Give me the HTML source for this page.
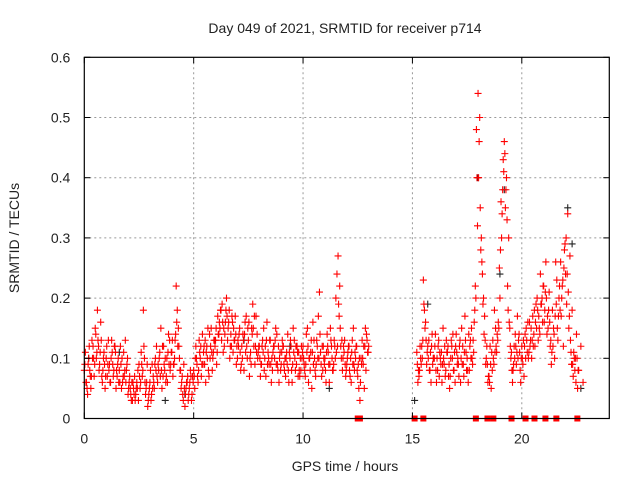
<!DOCTYPE html>
<html><head><meta charset="utf-8"><style>
body{margin:0;background:#fff}
svg{display:block;font-family:"Liberation Sans",sans-serif}
</style></head><body>
<svg id="chart" width="640" height="480">
<rect width="640" height="480" fill="#fff"/>
<text x="345" y="33" text-anchor="middle" font-size="14" fill="#222">Day 049 of 2021, SRMTID for receiver p714</text>
<text x="345" y="471" text-anchor="middle" font-size="14" fill="#222">GPS time / hours</text>
<text transform="translate(19,238) rotate(-90)" text-anchor="middle" font-size="14" fill="#222">SRMTID / TECUs</text>
<g id="grid"></g><g id="marks"></g><g id="axes"></g>
</svg>
<script>
const xTicks=[0,5,10,15,20];
const yTicks=[0,0.1,0.2,0.3,0.4,0.5,0.6];
const yTickLabels=["0","0.1","0.2","0.3","0.4","0.5","0.6"];
const seg1Start=0, seg1Step=0.1;
const seg1A=[.08,.06,.10,.05,.12,.15,.18,.09,.07,.11,.10,.13,.06,.09,.12,.07,.08,.05,.11,.06,.04,.05,.03,.07,.06,.09,.11,.18,.04,.02,.06,.09,.05,.12,.08,.15,.07,.10,.06,.13,.11,.09,.22,.15,.08,.04,.02,.06,.05,.03,.08,.12,.06,.10,.14,.09,.12,.07,.15,.11,.13,.17,.15,.19,.12,.20,.16,.14,.11,.17,.10,.15,.12,.08,.17,.13,.11,.19,.09,.14,.12,.09,.15,.07,.11,.13,.08,.10,.14,.06,.09,.12,.07,.14,.10,.06,.13,.09,.11,.08,.12,.07,.15,.10,.05,.13,.09,.17,.11,.08,.10,.14,.06,.12,.09,.20,.27,.15,.08,.13,.09,.12,.06,.15,.10,.07,.03,.13,.05,.14,.12];
const seg1B=[.11,.04,.08,.13,.07,.10,.12,.16,.08,.05,.07,.09,.13,.08,.05,.10,.12,.06,.08,.09,.06,.03,.05,.04,.08,.05,.07,.10,.06,.04,.03,.07,.10,.06,.11,.05,.09,.07,.14,.09,.07,.13,.18,.10,.06,.09,.05,.03,.08,.07,.05,.09,.13,.07,.11,.06,.15,.10,.08,.13,.09,.14,.18,.11,.16,.13,.10,.17,.13,.09,.12,.08,.14,.16,.10,.07,.15,.12,.17,.11,.07,.13,.10,.16,.09,.06,.12,.15,.08,.11,.13,.08,.11,.06,.12,.15,.08,.11,.07,.10,.09,.14,.06,.11,.16,.08,.12,.21,.07,.10,.06,.11,.15,.08,.12,.24,.17,.10,.12,.07,.11,.07,.13,.08,.12,.05,.10,.09,.15,.11];
const seg1C=[.09,.05,.12,.07,.10,.14,.13,.11,.06,.09,.12,.08,.10,.07,.11,.09,.06,.10,.07,.08,.05,.04,.06,.03,.05,.07,.09,.12,.05,.03,.08,.05,.09,.07,.10,.08,.12,.06,.11,.08,.13,.10,.16,.12,.05,.03,.04,.07,.06,.04,.07,.10,.08,.12,.09,.13,.10,.14,.11,.13,.15,.14,.18,.16,.14,.17,.18,.12,.15,.14,.13,.11,.10,.14,.12,.16,.09,.15,.12,.10,.10,.12,.08,.13,.10,.09,.11,.13,.09,.10,.11,.09,.10,.08,.13,.09,.10,.12,.08,.12,.10,.09,.12,.08,.11,.10,.13,.10,.09,.12,.08,.12,.09,.10,.13,.11,.19,.12,.10,.09,.10,.08,.11,.09,.12,.09,.06,.10,.12,.13];
const seg1D=[.06,.09,.07,.10,.09,.11,.08,.13,.10,.07,.09,.06,.11,.12,.08,.06,.09,.07,.13,.10,.07,.06,.04,.05,.03,.06,.08,.06,.09,.05,.04,.06,.08,.09,.07,.12,.08,.10,.09,.11,.09,.14,.12,.08,.07,.05,.06,.04,.07,.06,.10,.07,.11,.09,.12,.11,.08,.12,.10,.12,.11,.16,.13,.15,.18,.15,.12,.16,.13,.12,.14,.09,.13,.11,.15,.10,.14,.17,.11,.12,.09,.11,.12,.09,.13,.10,.12,.09,.12,.08,.12,.10,.09,.11,.08,.11,.12,.07,.10,.11,.08,.11,.10,.13,.09,.07,.10,.14,.12,.09,.11,.09,.13,.08,.10,.12,.22,.13,.11,.08,.12,.10,.09,.11,.08,.10,.09,.12,.08,.11];
const seg2Start=15.2, seg2Step=0.1;
const seg2A=[.11,.07,.09,.23,.16,.12,.08,.14,.10,.06,.13,.09,.15,.07,.11,.05,.12,.08,.14,.09,.06,.12,.17,.10,.08,.15,.11,.20,.54,.35,.24,.17,.12,.07,.05,.10,.15,.13,.20,.34,.46,.40,.30,.10,.08,.14,.17,.11,.12,.07,.15,.10,.13,.17,.12,.20,.15,.19,.22,.26,.15,.12,.18,.10,.23,.20,.17,.12,.24,.34,.27,.18,.10,.14,.08,.12,.06];
const seg2B=[.06,.12,.10,.18,.09,.13,.06,.10,.14,.08,.11,.06,.09,.13,.07,.10,.14,.06,.09,.12,.15,.07,.11,.06,.13,.09,.18,.40,.46,.30,.20,.09,.06,.12,.08,.18,.11,.15,.36,.43,.35,.22,.15,.08,.12,.09,.13,.06,.09,.14,.11,.16,.10,.14,.19,.13,.24,.16,.18,.14,.21,.09,.15,.26,.13,.18,.22,.28,.19,.15,.11,.07,.10,.05];
const seg2C=[.09,.08,.12,.19,.13,.10,.11,.09,.12,.10,.07,.11,.10,.08,.12,.07,.10,.11,.11,.07,.10,.09,.13,.08,.12,.10,.16,.48,.40,.28,.19,.13,.09,.06,.11,.09,.12,.16,.28,.38,.44,.33,.16,.11,.09,.12,.10,.08,.10,.12,.13,.11,.15,.12,.16,.18,.14,.20,.16,.20,.18,.13,.12,.17,.15,.22,.20,.25,.30,.21,.13,.09,.08,.10];
const seg2D=[.08,.10,.13,.15,.11,.08,.12,.10,.08,.12,.10,.09,.12,.11,.09,.13,.08,.12,.10,.13,.09,.11,.08,.14,.10,.13,.22,.32,.50,.26,.14,.10,.07,.09,.13,.11,.14,.25,.30,.41,.38,.18,.12,.06,.10,.11,.14,.10,.13,.10,.16,.12,.13,.18,.15,.17,.19,.22,.21,.17,.16,.11,.14,.19,.17,.26,.23,.29,.24,.17,.09,.11,.06,.08];
const blackHours=[0.2,1.6,3.7,4.6,7.3,9.4,11.2,15.1,15.7,18.0,19.0,19.2,22.1,22.3,22.7];
const blackVals=[.10,.11,.03,.04,.13,.12,.05,.03,.19,.40,.24,.38,.35,.29,.05];
const zeroHours=[12.5,12.6,15.1,15.5,17.9,18.43,18.7,19.53,20.17,20.58,21.08,21.58,22.54];

const L=84.3,R=609.3,T=57.3,B=418.5;
const X=h=>L+h/24*(R-L);
const Y=v=>B-v/0.6*(B-T);
const NS="http://www.w3.org/2000/svg";
function mk(tag,attrs,parent){const e=document.createElementNS(NS,tag);for(const k in attrs)e.setAttribute(k,attrs[k]);parent.appendChild(e);return e;}
const grid=document.getElementById('grid'),marks=document.getElementById('marks'),axes=document.getElementById('axes');
yTicks.forEach((v,i)=>{
 if(v>0&&v<0.6){const g=mk('line',{x1:L,x2:R,y1:Y(v),y2:Y(v),stroke:'#999','stroke-dasharray':'2,3'},grid);
 
 }
 mk('line',{x1:L,x2:L+6,y1:Y(v),y2:Y(v),stroke:'#000'},axes);
 mk('line',{x1:R,x2:R-6,y1:Y(v),y2:Y(v),stroke:'#000'},axes);
 const t=mk('text',{x:L-14,y:Y(v)+5,'text-anchor':'end','font-size':'14',fill:'#222'},axes);t.textContent=yTickLabels[i];
 
 
});
xTicks.forEach(h=>{
 if(h>0){const g=mk('line',{x1:X(h),x2:X(h),y1:T,y2:B,stroke:'#999','stroke-dasharray':'2,3'},grid);
 
 }
 mk('line',{x1:X(h),x2:X(h),y1:B,y2:B-6,stroke:'#000'},axes);
 mk('line',{x1:X(h),x2:X(h),y1:T,y2:T+6,stroke:'#000'},axes);
 const t=mk('text',{x:X(h),y:B+25,'text-anchor':'middle','font-size':'14',fill:'#222'},axes);t.textContent=h;
 
 
});
const frame=mk('rect',{x:L,y:T,width:R-L,height:B-T,fill:'none',stroke:'#000','stroke-width':1.2},axes);


function plus(h,v,col){const x=X(h),y=Y(v);
 const p=mk('path',{d:`M${x-3.5},${y}H${x+3.5}M${x},${y-3.5}V${y+3.5}`,stroke:col,'stroke-width':1.1,fill:'none'},marks);
 
 }
blackHours.forEach((h,i)=>plus(h,blackVals[i],'#222'));
seg1A.forEach((v,i)=>plus(seg1Start+i*seg1Step,v,'#f00'));
seg1B.forEach((v,i)=>plus(seg1Start+0.05+i*seg1Step,v,'#f00'));
seg1C.forEach((v,i)=>plus(seg1Start+0.025+i*seg1Step,v,'#f00'));
seg1D.forEach((v,i)=>plus(seg1Start+0.075+i*seg1Step,v,'#f00'));
seg2A.forEach((v,i)=>plus(seg2Start+i*seg2Step,v,'#f00'));
seg2B.forEach((v,i)=>plus(seg2Start+0.05+i*seg2Step,v,'#f00'));
seg2C.forEach((v,i)=>plus(seg2Start+0.025+i*seg2Step,v,'#f00'));
seg2D.forEach((v,i)=>plus(seg2Start+0.075+i*seg2Step,v,'#f00'));
zeroHours.forEach(h=>{const r=mk('rect',{x:X(h)-3,y:B-3,width:6,height:6,fill:'#f00'},marks);
 
 });
</script>
</body></html>
